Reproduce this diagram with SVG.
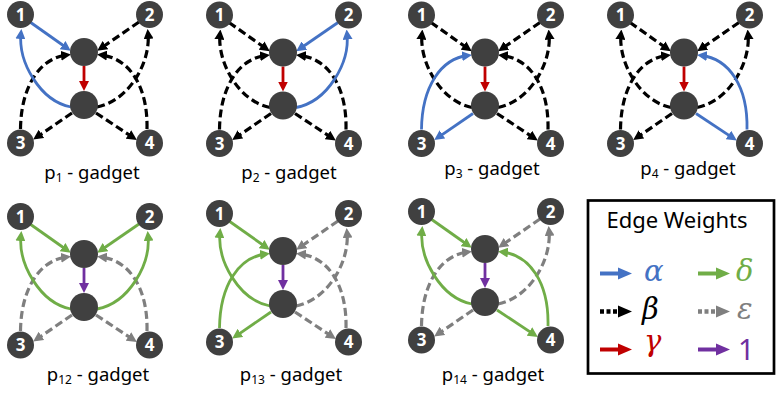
<svg xmlns="http://www.w3.org/2000/svg" width="776" height="394" viewBox="0 0 776 394">
<style>
.e{fill:none}
.bl{stroke:#4472C4;stroke-width:2.8;marker-end:url(#aB)}
.gr{stroke:#70AD47;stroke-width:2.8;marker-end:url(#aG)}
.rd{stroke:#C00000;stroke-width:2.8;marker-end:url(#aR)}
.pu{stroke:#7030A0;stroke-width:2.8;marker-end:url(#aP)}
.bk{stroke:#000;stroke-width:3.2;stroke-dasharray:8 4;marker-end:url(#aK)}
.gy{stroke:#7F7F7F;stroke-width:3.2;stroke-dasharray:8 4;marker-end:url(#aY)}
.node circle{fill:#404040}
.node text{fill:#fff;font-family:"Noto Sans",sans-serif;font-weight:bold;font-size:17px;text-anchor:middle}
.lbl{font-family:"Noto Sans",sans-serif;font-size:18.5px;text-anchor:middle;fill:#000}
.greek{font-family:"DejaVu Serif",serif;font-style:italic;font-size:29px}
</style>
<defs>
<marker id="aB" viewBox="0 0 10 10" markerWidth="10" markerHeight="10" refX="6" refY="5" orient="auto" markerUnits="userSpaceOnUse"><path d="M0,0L10,5L0,10z" fill="#4472C4"/></marker>
<marker id="aG" viewBox="0 0 10 10" markerWidth="10" markerHeight="10" refX="6" refY="5" orient="auto" markerUnits="userSpaceOnUse"><path d="M0,0L10,5L0,10z" fill="#70AD47"/></marker>
<marker id="aR" viewBox="0 0 10 10" markerWidth="10" markerHeight="10" refX="6" refY="5" orient="auto" markerUnits="userSpaceOnUse"><path d="M0,0L10,5L0,10z" fill="#C00000"/></marker>
<marker id="aP" viewBox="0 0 10 10" markerWidth="10" markerHeight="10" refX="6" refY="5" orient="auto" markerUnits="userSpaceOnUse"><path d="M0,0L10,5L0,10z" fill="#7030A0"/></marker>
<marker id="aK" viewBox="0 0 10 10" markerWidth="10" markerHeight="10" refX="6" refY="5" orient="auto" markerUnits="userSpaceOnUse"><path d="M0,0L10,5L0,10z" fill="#000"/></marker>
<marker id="aY" viewBox="0 0 10 10" markerWidth="10" markerHeight="10" refX="6" refY="5" orient="auto" markerUnits="userSpaceOnUse"><path d="M0,0L10,5L0,10z" fill="#7F7F7F"/></marker>
</defs>
<rect width="776" height="394" fill="#fff"/>

<!-- p1 -->
<g id="gadget-p1" transform="translate(0,0)">
<g id="p1-connectors" class="e">
<path class="bk" d="M139,22L100.5,48.5"/>
<path class="bk" d="M97,107C129,101 151,62 148,33"/>
<path class="bk" d="M20.5,129C21,86 40,58 67,55"/>
<path class="bk" d="M147,129C148,86 129,58 101,55"/>
<path class="bk" d="M72,113L36.5,137.3"/>
<path class="bk" d="M96,113L133.5,137.8"/>
<path class="bl" d="M30,22L67.5,48.5"/>
<path class="bl" d="M71,107C40,101 18,62 21,33"/>
<path class="rd" d="M84,66L84,87"/>
</g>
<g id="p1-n1" class="node"><circle cx="20.5" cy="14.5" r="13.5"/><text x="20.5" y="20.6">1</text></g>
<g id="p1-n2" class="node"><circle cx="149.5" cy="14.5" r="13.5"/><text x="149.5" y="20.6">2</text></g>
<g id="p1-top" class="node"><circle cx="84" cy="52" r="14"/></g>
<g id="p1-bot" class="node"><circle cx="84" cy="105" r="14"/></g>
<g id="p1-n3" class="node"><circle cx="20.5" cy="143" r="13.5"/><text x="20.5" y="149.1">3</text></g>
<g id="p1-n4" class="node"><circle cx="149.5" cy="143" r="13.5"/><text x="149.5" y="149.1">4</text></g>
</g>
<text class="lbl" x="92" y="179">p<tspan font-size="12" dy="3">1</tspan><tspan dy="-3"> - gadget</tspan></text>

<!-- p2 -->
<g id="gadget-p2" transform="translate(199,0.5)">
<g id="p2-connectors" class="e">
<path class="bk" d="M30,22L67.5,48.5"/>
<path class="bk" d="M71,107C40,101 18,62 21,33"/>
<path class="bk" d="M20.5,129C21,86 40,58 67,55"/>
<path class="bk" d="M147,129C148,86 129,58 101,55"/>
<path class="bk" d="M72,113L36.5,137.3"/>
<path class="bk" d="M96,113L133.5,137.8"/>
<path class="bl" d="M139,22L100.5,48.5"/>
<path class="bl" d="M97,107C129,101 151,62 148,33"/>
<path class="rd" d="M84,66L84,87"/>
</g>
<g id="p2-n1" class="node"><circle cx="20.5" cy="14.5" r="13.5"/><text x="20.5" y="20.6">1</text></g>
<g id="p2-n2" class="node"><circle cx="149.5" cy="14.5" r="13.5"/><text x="149.5" y="20.6">2</text></g>
<g id="p2-top" class="node"><circle cx="84" cy="52" r="14"/></g>
<g id="p2-bot" class="node"><circle cx="84" cy="105" r="14"/></g>
<g id="p2-n3" class="node"><circle cx="20.5" cy="143" r="13.5"/><text x="20.5" y="149.1">3</text></g>
<g id="p2-n4" class="node"><circle cx="149.5" cy="143" r="13.5"/><text x="149.5" y="149.1">4</text></g>
</g>
<text class="lbl" x="289" y="179">p<tspan font-size="12" dy="3">2</tspan><tspan dy="-3"> - gadget</tspan></text>

<!-- p3 -->
<g id="gadget-p3" transform="translate(401,0.5)">
<g id="p3-connectors" class="e">
<path class="bk" d="M30,22L67.5,48.5"/>
<path class="bk" d="M71,107C40,101 18,62 21,33"/>
<path class="bk" d="M139,22L100.5,48.5"/>
<path class="bk" d="M97,107C129,101 151,62 148,33"/>
<path class="bk" d="M147,129C148,86 129,58 101,55"/>
<path class="bk" d="M96,113L133.5,137.8"/>
<path class="bl" d="M20.5,129C21,86 40,58 67,55"/>
<path class="bl" d="M72,113L36.5,137.3"/>
<path class="rd" d="M84,66L84,87"/>
</g>
<g id="p3-n1" class="node"><circle cx="20.5" cy="14.5" r="13.5"/><text x="20.5" y="20.6">1</text></g>
<g id="p3-n2" class="node"><circle cx="149.5" cy="14.5" r="13.5"/><text x="149.5" y="20.6">2</text></g>
<g id="p3-top" class="node"><circle cx="84" cy="52" r="14"/></g>
<g id="p3-bot" class="node"><circle cx="84" cy="105" r="14"/></g>
<g id="p3-n3" class="node"><circle cx="20.5" cy="143" r="13.5"/><text x="20.5" y="149.1">3</text></g>
<g id="p3-n4" class="node"><circle cx="149.5" cy="143" r="13.5"/><text x="149.5" y="149.1">4</text></g>
</g>
<text class="lbl" x="492" y="175">p<tspan font-size="12" dy="3">3</tspan><tspan dy="-3"> - gadget</tspan></text>

<!-- p4 -->
<g id="gadget-p4" transform="translate(600,0.5)">
<g id="p4-connectors" class="e">
<path class="bk" d="M30,22L67.5,48.5"/>
<path class="bk" d="M71,107C40,101 18,62 21,33"/>
<path class="bk" d="M139,22L100.5,48.5"/>
<path class="bk" d="M97,107C129,101 151,62 148,33"/>
<path class="bk" d="M20.5,129C21,86 40,58 67,55"/>
<path class="bk" d="M72,113L36.5,137.3"/>
<path class="bl" d="M147,129C148,86 129,58 101,55"/>
<path class="bl" d="M96,113L133.5,137.8"/>
<path class="rd" d="M84,66L84,87"/>
</g>
<g id="p4-n1" class="node"><circle cx="20.5" cy="14.5" r="13.5"/><text x="20.5" y="20.6">1</text></g>
<g id="p4-n2" class="node"><circle cx="149.5" cy="14.5" r="13.5"/><text x="149.5" y="20.6">2</text></g>
<g id="p4-top" class="node"><circle cx="84" cy="52" r="14"/></g>
<g id="p4-bot" class="node"><circle cx="84" cy="105" r="14"/></g>
<g id="p4-n3" class="node"><circle cx="20.5" cy="143" r="13.5"/><text x="20.5" y="149.1">3</text></g>
<g id="p4-n4" class="node"><circle cx="149.5" cy="143" r="13.5"/><text x="149.5" y="149.1">4</text></g>
</g>
<text class="lbl" x="688" y="175">p<tspan font-size="12" dy="3">4</tspan><tspan dy="-3"> - gadget</tspan></text>

<!-- p12 -->
<g id="gadget-p12" transform="translate(0,202)">
<g id="p12-connectors" class="e">
<path class="gy" d="M20.5,129C21,86 40,58 67,55"/>
<path class="gy" d="M147,129C148,86 129,58 101,55"/>
<path class="gy" d="M72,113L36.5,137.3"/>
<path class="gy" d="M96,113L133.5,137.8"/>
<path class="gr" d="M30,22L67.5,48.5"/>
<path class="gr" d="M71,107C40,101 18,62 21,33"/>
<path class="gr" d="M139,22L100.5,48.5"/>
<path class="gr" d="M97,107C129,101 151,62 148,33"/>
<path class="pu" d="M84,66L84,87"/>
</g>
<g id="p12-n1" class="node"><circle cx="20.5" cy="14.5" r="13.5"/><text x="20.5" y="20.6">1</text></g>
<g id="p12-n2" class="node"><circle cx="149.5" cy="14.5" r="13.5"/><text x="149.5" y="20.6">2</text></g>
<g id="p12-top" class="node"><circle cx="84" cy="52" r="14"/></g>
<g id="p12-bot" class="node"><circle cx="84" cy="105" r="14"/></g>
<g id="p12-n3" class="node"><circle cx="20.5" cy="143" r="13.5"/><text x="20.5" y="149.1">3</text></g>
<g id="p12-n4" class="node"><circle cx="149.5" cy="143" r="13.5"/><text x="149.5" y="149.1">4</text></g>
</g>
<text class="lbl" x="98" y="381">p<tspan font-size="12" dy="3">12</tspan><tspan dy="-3"> - gadget</tspan></text>

<!-- p13 -->
<g id="gadget-p13" transform="translate(199,199)">
<g id="p13-connectors" class="e">
<path class="gy" d="M139,22L100.5,48.5"/>
<path class="gy" d="M97,107C129,101 151,62 148,33"/>
<path class="gy" d="M147,129C148,86 129,58 101,55"/>
<path class="gy" d="M96,113L133.5,137.8"/>
<path class="gr" d="M30,22L67.5,48.5"/>
<path class="gr" d="M71,107C40,101 18,62 21,33"/>
<path class="gr" d="M20.5,129C21,86 40,58 67,55"/>
<path class="gr" d="M72,113L36.5,137.3"/>
<path class="pu" d="M84,66L84,87"/>
</g>
<g id="p13-n1" class="node"><circle cx="20.5" cy="14.5" r="13.5"/><text x="20.5" y="20.6">1</text></g>
<g id="p13-n2" class="node"><circle cx="149.5" cy="14.5" r="13.5"/><text x="149.5" y="20.6">2</text></g>
<g id="p13-top" class="node"><circle cx="84" cy="52" r="14"/></g>
<g id="p13-bot" class="node"><circle cx="84" cy="105" r="14"/></g>
<g id="p13-n3" class="node"><circle cx="20.5" cy="143" r="13.5"/><text x="20.5" y="149.1">3</text></g>
<g id="p13-n4" class="node"><circle cx="149.5" cy="143" r="13.5"/><text x="149.5" y="149.1">4</text></g>
</g>
<text class="lbl" x="291" y="381">p<tspan font-size="12" dy="3">13</tspan><tspan dy="-3"> - gadget</tspan></text>

<!-- p14 -->
<g id="gadget-p14" transform="translate(401,197)">
<g id="p14-connectors" class="e">
<path class="gy" d="M139,22L100.5,48.5"/>
<path class="gy" d="M97,107C129,101 151,62 148,33"/>
<path class="gy" d="M20.5,129C21,86 40,58 67,55"/>
<path class="gy" d="M72,113L36.5,137.3"/>
<path class="gr" d="M30,22L67.5,48.5"/>
<path class="gr" d="M71,107C40,101 18,62 21,33"/>
<path class="gr" d="M147,129C148,86 129,58 101,55"/>
<path class="gr" d="M96,113L133.5,137.8"/>
<path class="pu" d="M84,66L84,87"/>
</g>
<g id="p14-n1" class="node"><circle cx="20.5" cy="14.5" r="13.5"/><text x="20.5" y="20.6">1</text></g>
<g id="p14-n2" class="node"><circle cx="149.5" cy="14.5" r="13.5"/><text x="149.5" y="20.6">2</text></g>
<g id="p14-top" class="node"><circle cx="84" cy="52" r="14"/></g>
<g id="p14-bot" class="node"><circle cx="84" cy="105" r="14"/></g>
<g id="p14-n3" class="node"><circle cx="20.5" cy="143" r="13.5"/><text x="20.5" y="149.1">3</text></g>
<g id="p14-n4" class="node"><circle cx="149.5" cy="143" r="13.5"/><text x="149.5" y="149.1">4</text></g>
</g>
<text class="lbl" x="493" y="381">p<tspan font-size="12" dy="3">14</tspan><tspan dy="-3"> - gadget</tspan></text>

<!-- Legend -->
<g id="legend">
<rect x="588" y="200.5" width="186" height="173" fill="#fff" stroke="#000" stroke-width="2.7"/>
<text x="677" y="228" font-family="'Noto Sans',sans-serif" font-size="22" text-anchor="middle">Edge Weights</text>
<line x1="600" y1="273.5" x2="620" y2="273.5" stroke="#4472C4" stroke-width="4"/>
<polygon points="618,267.5 632,273.5 618,279.5" fill="#4472C4"/>
<text class="greek" x="644" y="281" fill="#4472C4">α</text>
<line x1="698" y1="273.5" x2="718" y2="273.5" stroke="#70AD47" stroke-width="4"/>
<polygon points="716,267.5 730,273.5 716,279.5" fill="#70AD47"/>
<text class="greek" x="736" y="281" fill="#70AD47">δ</text>
<line x1="600" y1="311.5" x2="619" y2="311.5" stroke="#000" stroke-width="4.5" stroke-dasharray="4 2.5"/>
<polygon points="618,305.5 632,311.5 618,317.5" fill="#000"/>
<text class="greek" x="642" y="319" fill="#000">β</text>
<line x1="698" y1="311.5" x2="717" y2="311.5" stroke="#7F7F7F" stroke-width="4.5" stroke-dasharray="4 2.5"/>
<polygon points="716,305.5 730,311.5 716,317.5" fill="#7F7F7F"/>
<text class="greek" x="737" y="319" fill="#7F7F7F">ε</text>
<line x1="600" y1="349.5" x2="620" y2="349.5" stroke="#C00000" stroke-width="4"/>
<polygon points="618,343.5 632,349.5 618,355.5" fill="#C00000"/>
<text class="greek" x="644" y="351" fill="#C00000">γ</text>
<line x1="698" y1="349.5" x2="718" y2="349.5" stroke="#7030A0" stroke-width="4"/>
<polygon points="716,343.5 730,349.5 716,355.5" fill="#7030A0"/>
<text x="738" y="360" font-family="'Noto Sans',sans-serif" font-size="29" fill="#7030A0">1</text>
</g>
</svg>
